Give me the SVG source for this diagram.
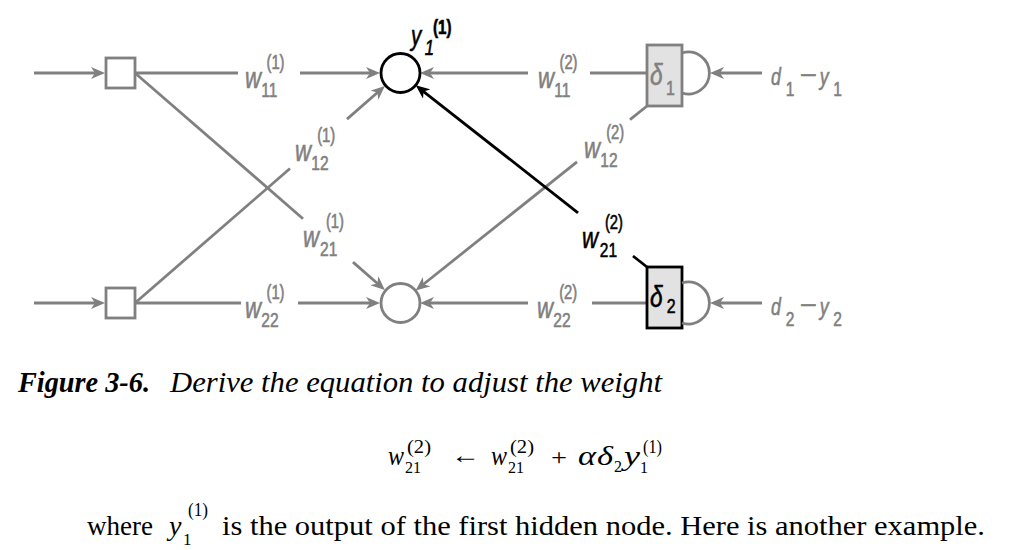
<svg xmlns="http://www.w3.org/2000/svg" width="1026" height="550" viewBox="0 0 1026 550">
<style>
.ln{stroke:#808080;stroke-width:2.8;fill:none}
.lk{stroke:#000;stroke-width:2.8;fill:none}
.g{fill:#808080;stroke:#808080;stroke-width:0.6;font-family:"Liberation Sans",Arial,sans-serif}
.k{fill:#000;stroke:#000;stroke-width:0.6;font-family:"Liberation Sans",Arial,sans-serif}
.it{font-style:italic}
.w{font-size:30px;font-style:italic}
.sb{font-size:21px}
.sp{font-size:20px}
.sf{font-family:"Liberation Serif","Times New Roman",serif;fill:#000}
</style>
<defs>
<marker id="ag" viewBox="0 0 14 12" refX="6" refY="6" markerWidth="14" markerHeight="12" markerUnits="userSpaceOnUse" orient="auto"><path d="M0,0 L14,6 L0,12 L4,6 z" fill="#808080"/></marker>
<marker id="ak" viewBox="0 0 14 12" refX="6" refY="6" markerWidth="14" markerHeight="12" markerUnits="userSpaceOnUse" orient="auto"><path d="M0,0 L14,6 L0,12 L4,6 z" fill="#000"/></marker>
</defs>
<rect width="1026" height="550" fill="#fff"/>

<g id="connectors">
<line class="ln" x1="34" y1="73" x2="97" y2="73" marker-end="url(#ag)"/>
<line class="ln" x1="34" y1="303" x2="97" y2="303" marker-end="url(#ag)"/>
<line class="ln" x1="135" y1="73" x2="238" y2="73"/>
<line class="ln" x1="300" y1="73" x2="372" y2="73" marker-end="url(#ag)"/>
<line class="ln" x1="135" y1="303" x2="290" y2="168.5"/>
<line class="ln" x1="347" y1="119.1" x2="378.9" y2="91.3" marker-end="url(#ag)"/>
<line class="ln" x1="135" y1="73" x2="303" y2="218.7"/>
<line class="ln" x1="353" y1="262.1" x2="378.9" y2="284.7" marker-end="url(#ag)"/>
<line class="ln" x1="135" y1="303" x2="241" y2="303"/>
<line class="ln" x1="298" y1="303" x2="372" y2="303" marker-end="url(#ag)"/>
<line class="ln" x1="647" y1="73" x2="590" y2="73"/>
<line class="ln" x1="528" y1="73" x2="428" y2="73" marker-end="url(#ag)"/>
<line class="ln" x1="647" y1="106" x2="630" y2="119.6"/>
<line class="ln" x1="577" y1="161.9" x2="421.9" y2="285.5" marker-end="url(#ag)"/>
<line class="lk" x1="647" y1="267" x2="633" y2="256"/>
<line class="lk" x1="578" y1="212.8" x2="422" y2="90.3" marker-end="url(#ak)"/>
<line class="ln" x1="647" y1="303" x2="592" y2="303"/>
<line class="ln" x1="528" y1="303" x2="428" y2="303" marker-end="url(#ag)"/>
<line class="ln" x1="762" y1="73" x2="718" y2="73" marker-end="url(#ag)"/>
<line class="ln" x1="762" y1="303" x2="718" y2="303" marker-end="url(#ag)"/>
</g>

<g id="labels">
<g transform="translate(245,88) scale(0.74,1)" class="g"><text class="w">w</text><text class="sb" x="22" y="9">11</text><text class="sp" x="29" y="-19">(1)</text></g>
<g transform="translate(295,161) scale(0.74,1)" class="g"><text class="w">w</text><text class="sb" x="22" y="9">12</text><text class="sp" x="30" y="-19">(1)</text></g>
<g transform="translate(303,247) scale(0.74,1)" class="g"><text class="w">w</text><text class="sb" x="23" y="9">21</text><text class="sp" x="31" y="-19">(1)</text></g>
<g transform="translate(245,318) scale(0.74,1)" class="g"><text class="w">w</text><text class="sb" x="22" y="9">22</text><text class="sp" x="29" y="-19">(1)</text></g>
<g transform="translate(538,88) scale(0.74,1)" class="g"><text class="w">w</text><text class="sb" x="22" y="9">11</text><text class="sp" x="29" y="-19">(2)</text></g>
<g transform="translate(584,158) scale(0.74,1)" class="g"><text class="w">w</text><text class="sb" x="22" y="9">12</text><text class="sp" x="30" y="-19">(2)</text></g>
<g transform="translate(582,248) scale(0.74,1)" class="k"><text class="w">w</text><text class="sb" x="24" y="9">21</text><text class="sp" x="31" y="-19">(2)</text></g>
<g transform="translate(537,318) scale(0.74,1)" class="g"><text class="w">w</text><text class="sb" x="22" y="9">22</text><text class="sp" x="30" y="-19">(2)</text></g>
</g>

<g id="in1"><rect x="106" y="58" width="29" height="30" fill="#fff" stroke="#808080" stroke-width="2.8"/></g>
<g id="in2"><rect x="106" y="288" width="29" height="30" fill="#fff" stroke="#808080" stroke-width="2.8"/></g>

<g id="hid1">
<circle cx="400.5" cy="73" r="19.5" fill="#fff" stroke="#000" stroke-width="2.8"/>
<g transform="translate(411,45) scale(0.76,1)" class="k"><text class="it" font-size="27">y</text><text class="it" font-size="22" x="18" y="10">1</text><text font-size="20" font-weight="bold" x="29" y="-11">(1)</text></g>
</g>
<g id="hid2"><circle cx="400.5" cy="303" r="19.5" fill="#fff" stroke="#808080" stroke-width="2.8"/></g>

<g id="out1">
<rect x="647" y="45" width="35" height="61" fill="#e2e2e2" stroke="#808080" stroke-width="2.8"/>
<path d="M682,53 A21,21 0 1 1 682,93" class="ln"/>
<g transform="translate(650,85) scale(0.76,1)" class="g"><text class="it" font-size="30">δ</text><text font-size="21" x="21" y="10">1</text></g>
</g>
<g id="out2">
<rect x="647" y="267" width="35" height="61" fill="#e2e2e2" stroke="#000" stroke-width="2.8"/>
<path d="M682,283 A21,21 0 1 1 682,323" class="ln"/>
<g transform="translate(650,307) scale(0.76,1)" class="k"><text class="it" font-size="30">δ</text><text font-size="21" x="22" y="6">2</text></g>
</g>

<g id="err1" transform="translate(771,85) scale(0.74,1)" class="g"><text class="it" font-size="24">d</text><text font-size="21" x="20" y="11">1</text><text font-size="24" x="39" y="-2" textLength="23" lengthAdjust="spacingAndGlyphs">−</text><text class="it" font-size="24" x="66">y</text><text font-size="21" x="84" y="11">1</text></g>
<g id="err2" transform="translate(771,315) scale(0.74,1)" class="g"><text class="it" font-size="24">d</text><text font-size="21" x="20" y="11">2</text><text font-size="24" x="39" y="-2" textLength="23" lengthAdjust="spacingAndGlyphs">−</text><text class="it" font-size="24" x="66">y</text><text font-size="21" x="84" y="11">2</text></g>

<g id="caption" class="sf">
<text x="18" y="392" font-size="29" font-weight="bold" font-style="italic" textLength="132" lengthAdjust="spacingAndGlyphs">Figure 3-6.</text>
<text x="170" y="392" font-size="29" font-style="italic" textLength="492" lengthAdjust="spacingAndGlyphs">Derive the equation to adjust the weight</text>
</g>

<g id="equation" class="sf">
<text x="388" y="465" font-size="27" font-style="italic" textLength="16" lengthAdjust="spacingAndGlyphs">w</text>
<text x="405" y="473" font-size="16">21</text>
<text x="407" y="453" font-size="19" textLength="24" lengthAdjust="spacingAndGlyphs">(2)</text>
<text x="451" y="463" font-size="24" textLength="29" lengthAdjust="spacingAndGlyphs">←</text>
<text x="491" y="465" font-size="27" font-style="italic" textLength="16" lengthAdjust="spacingAndGlyphs">w</text>
<text x="508" y="473" font-size="16">21</text>
<text x="510" y="453" font-size="19" textLength="24" lengthAdjust="spacingAndGlyphs">(2)</text>
<text x="551" y="465" font-size="24" textLength="16" lengthAdjust="spacingAndGlyphs">+</text>
<text x="578" y="465" font-size="27" font-style="italic" textLength="18" lengthAdjust="spacingAndGlyphs">α</text>
<text x="597" y="465" font-size="27" font-style="italic" textLength="16" lengthAdjust="spacingAndGlyphs">δ</text>
<text x="614" y="472" font-size="16">2</text>
<text x="624" y="465" font-size="27" font-style="italic" textLength="16" lengthAdjust="spacingAndGlyphs">y</text>
<text x="640" y="473" font-size="16">1</text>
<text x="643" y="453" font-size="19" textLength="19" lengthAdjust="spacingAndGlyphs">(1)</text>
</g>

<g id="body" class="sf">
<text x="87" y="535" font-size="28" textLength="66" lengthAdjust="spacingAndGlyphs">where</text>
<text x="169" y="535" font-size="28" font-style="italic">y</text>
<text x="183" y="545" font-size="17">1</text>
<text x="188" y="516" font-size="18" textLength="20" lengthAdjust="spacingAndGlyphs">(1)</text>
<text x="222" y="535" font-size="28" textLength="763" lengthAdjust="spacingAndGlyphs">is the output of the first hidden node. Here is another example.</text>
</g>
</svg>
